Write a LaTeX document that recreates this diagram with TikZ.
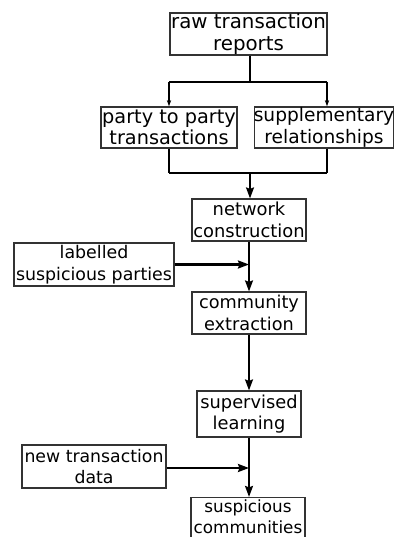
\documentclass[tikz,border=0pt]{standalone}
\usepackage{fontspec}
\setmainfont{DejaVu Sans}
\usetikzlibrary{arrows.meta}
\begin{document}
\begin{tikzpicture}[x=1pt,y=-1pt,
  box/.style={draw=black!80, line width=1.2pt, fill=white, inner sep=0pt},
  lbl/.style={inner sep=0pt, align=center, font=\fontsize{#1}{21.5}\selectfont},
  conn/.style={line width=1.6pt, black},
  bus/.style={line width=2.2pt, black},
  bigarrow/.style={-{Stealth[length=11pt,width=8pt,inset=1.5pt]}},
  smallarrow/.style={-{Stealth[length=6pt,width=4pt,inset=1pt]}}]
\useasboundingbox (0,0) rectangle (395,537);
\clip (0,0) rectangle (395,537);
\fill[white] (0,0) rectangle (395,537);

\node[box, minimum width=157, minimum height=42, label={[lbl=19.8]center:{raw transaction\\reports}}] (raw) at (248.5,34) {};
\node[box, minimum width=136, minimum height=41, label={[lbl=19.3]center:{party to party\\transactions}}] (party) at (169,127.5) {};
\node[box, minimum width=139, minimum height=41, label={[lbl=18.6]center:{supplementary\\relationships}}] (supp) at (324,127.5) {};
\node[box, minimum width=114, minimum height=42, label={[lbl=17.9]center:{network\\construction}}] (net) at (249,220) {};
\node[box, minimum width=160, minimum height=43, label={[lbl=17.4]center:{labelled\\suspicious parties}}] (lab) at (94,264.5) {};
\node[box, minimum width=114, minimum height=42, label={[lbl=17.7]center:{community\\extraction}}] (comm) at (249,313) {};
\node[box, minimum width=104, minimum height=46, label={[lbl=17.8]center:{supervised\\learning}}] (sup) at (249,414) {};
\node[box, minimum width=144, minimum height=43, label={[lbl=17.3]center:{new transaction\\data}}] (new) at (94,466.5) {};
\node[box, minimum width=114, minimum height=43, label={[lbl=16.8, yshift=2.5pt]center:{suspicious\\communities}}] (susp) at (248,519) {};

\coordinate (s1) at (250,82);
\coordinate (s1l) at (169,82);
\coordinate (s1r) at (327,82);
\coordinate (s2) at (250,173);
\coordinate (s2l) at (169,173);
\coordinate (s2r) at (327,173);
\coordinate (j1) at (249,264.5);
\coordinate (j2) at (249,468);

\draw[conn] (raw.south -| s1) -- (s1);
\draw[bus] (s1l) -- (s1r);
\draw[conn, smallarrow] (s1l) -- (party.north);
\draw[conn, smallarrow] (s1r) -- (supp.north -| s1r);
\draw[conn] (party.south) -- (s2l);
\draw[conn] (supp.south -| s2r) -- (s2r);
\draw[bus] (s2l) -- (s2r);
\draw[conn, bigarrow] (s2) -- (net.north -| s2);

\draw[conn, bigarrow] (net.south) -- (comm.north);
\draw[bus, bigarrow] (lab.east) -- (j1);

\draw[conn, bigarrow] (comm.south) -- (sup.north);

\draw[conn, bigarrow] (sup.south) -- (susp.north -| sup.south);
\draw[bus, bigarrow] (new.east |- j2) -- (j2);
\end{tikzpicture}
\end{document}
